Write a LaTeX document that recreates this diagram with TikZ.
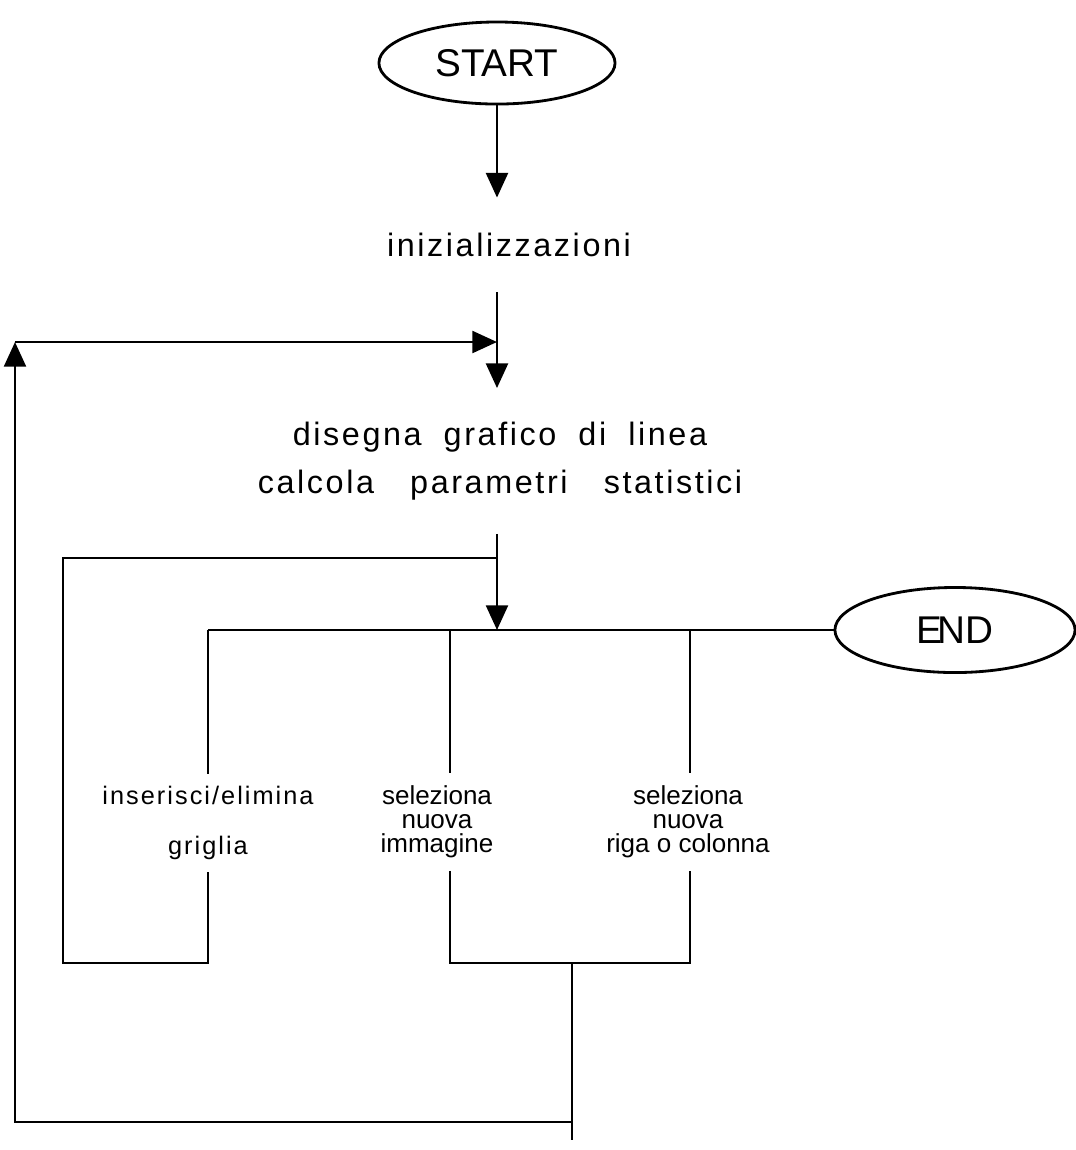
\documentclass[tikz,border=0pt]{standalone}
\usepackage{fontspec}
\usepackage{tikz}
\usetikzlibrary{arrows.meta}
\usetikzlibrary{shapes.geometric}
\usetikzlibrary{positioning}
\setmainfont{Liberation Sans}
\newfontfamily\spacedfont[LetterSpace=8]{Liberation Sans}
\tikzset{flow/.style = {-{Triangle[length=7pt, width=6.2pt]}},
         term/.style = {draw, ellipse, inner sep=0pt,
                        font=\fontsize{11}{13}\selectfont},
         task/.style = {align=center, inner sep=0pt,
                        font=\spacedfont\fontsize{9.2}{13.7}\selectfont},
         pick/.style = {align=center, inner sep=0pt, minimum height=0.95cm,
                        font=\spacedfont\fontsize{7.2}{14}\selectfont},
         choice/.style = {align=center, inner sep=0pt, minimum height=0.95cm,
                          font=\fontsize{7.4}{6.8}\selectfont}}

\begin{document}
\begin{tikzpicture}[x=0.01cm, y=-0.01cm, line width=0.8pt]
    \useasboundingbox (0, 0) rectangle (1076, 1150);

    \node [term, minimum width=2.36cm, minimum height=0.82cm] (start) at (497, 63) {START};
    \node [task, minimum height=0.92cm] (init) at (509, 245) {inizializzazioni};
    \node [task, minimum height=1.43cm] (calc) at (500, 461)
        {disegna\hspace{3pt} grafico\hspace{3pt} di\hspace{3pt} linea\\
         calcola\hspace{7pt} parametri\hspace{7pt} statistici};
    \node [term, minimum width=2.4cm, minimum height=0.85cm] (end) at (955, 630) {E\kern-1.2ptND};

    \node [pick] (grid) at (208, 823) {inserisci/elimina\\griglia};
    \node [choice] (image) at (437, 822) {seleziona\\nuova\\immagine};
    \node [choice] (row) at (688, 822) {seleziona\\nuova\\riga o colonna};

    \coordinate (j1) at (497, 342); % outer loop comes back here
    \coordinate (j2) at (497, 558); % inner loop leaves here
    \coordinate (b2) at (450, 630);
    \coordinate (b3) at (690, 630);
    \coordinate (m) at (572, 963);
    \coordinate (l1) at (63, 963);
    \coordinate (l2) at (15, 1122);
    \coordinate (tail) at (572, 1140);

    \draw [flow] (start) -- (start |- init.north);
    \draw [flow] (start |- init.south) -- (start |- calc.north);
    \draw [flow] (start |- calc.south) -- (start |- b2);

    \draw (grid.north |- end.west) -- (end.west);
    \draw (grid.north |- end.west) -- (grid.north);
    \draw (b2) -- (b2 |- image.north);
    \draw (b3) -- (b3 |- row.north);
    \draw (b2 |- image.south) -- (b2 |- m) -- (b3 |- m) -- (b3 |- row.south);

    \draw (j2) -| (l1) -| (grid.south);

    \draw (m) -- (tail);
    \draw [flow] (m |- l2) -- (l2) -- (l2 |- j1);
    \draw [flow] (l2 |- j1) -- (j1);
\end{tikzpicture}
\end{document}
